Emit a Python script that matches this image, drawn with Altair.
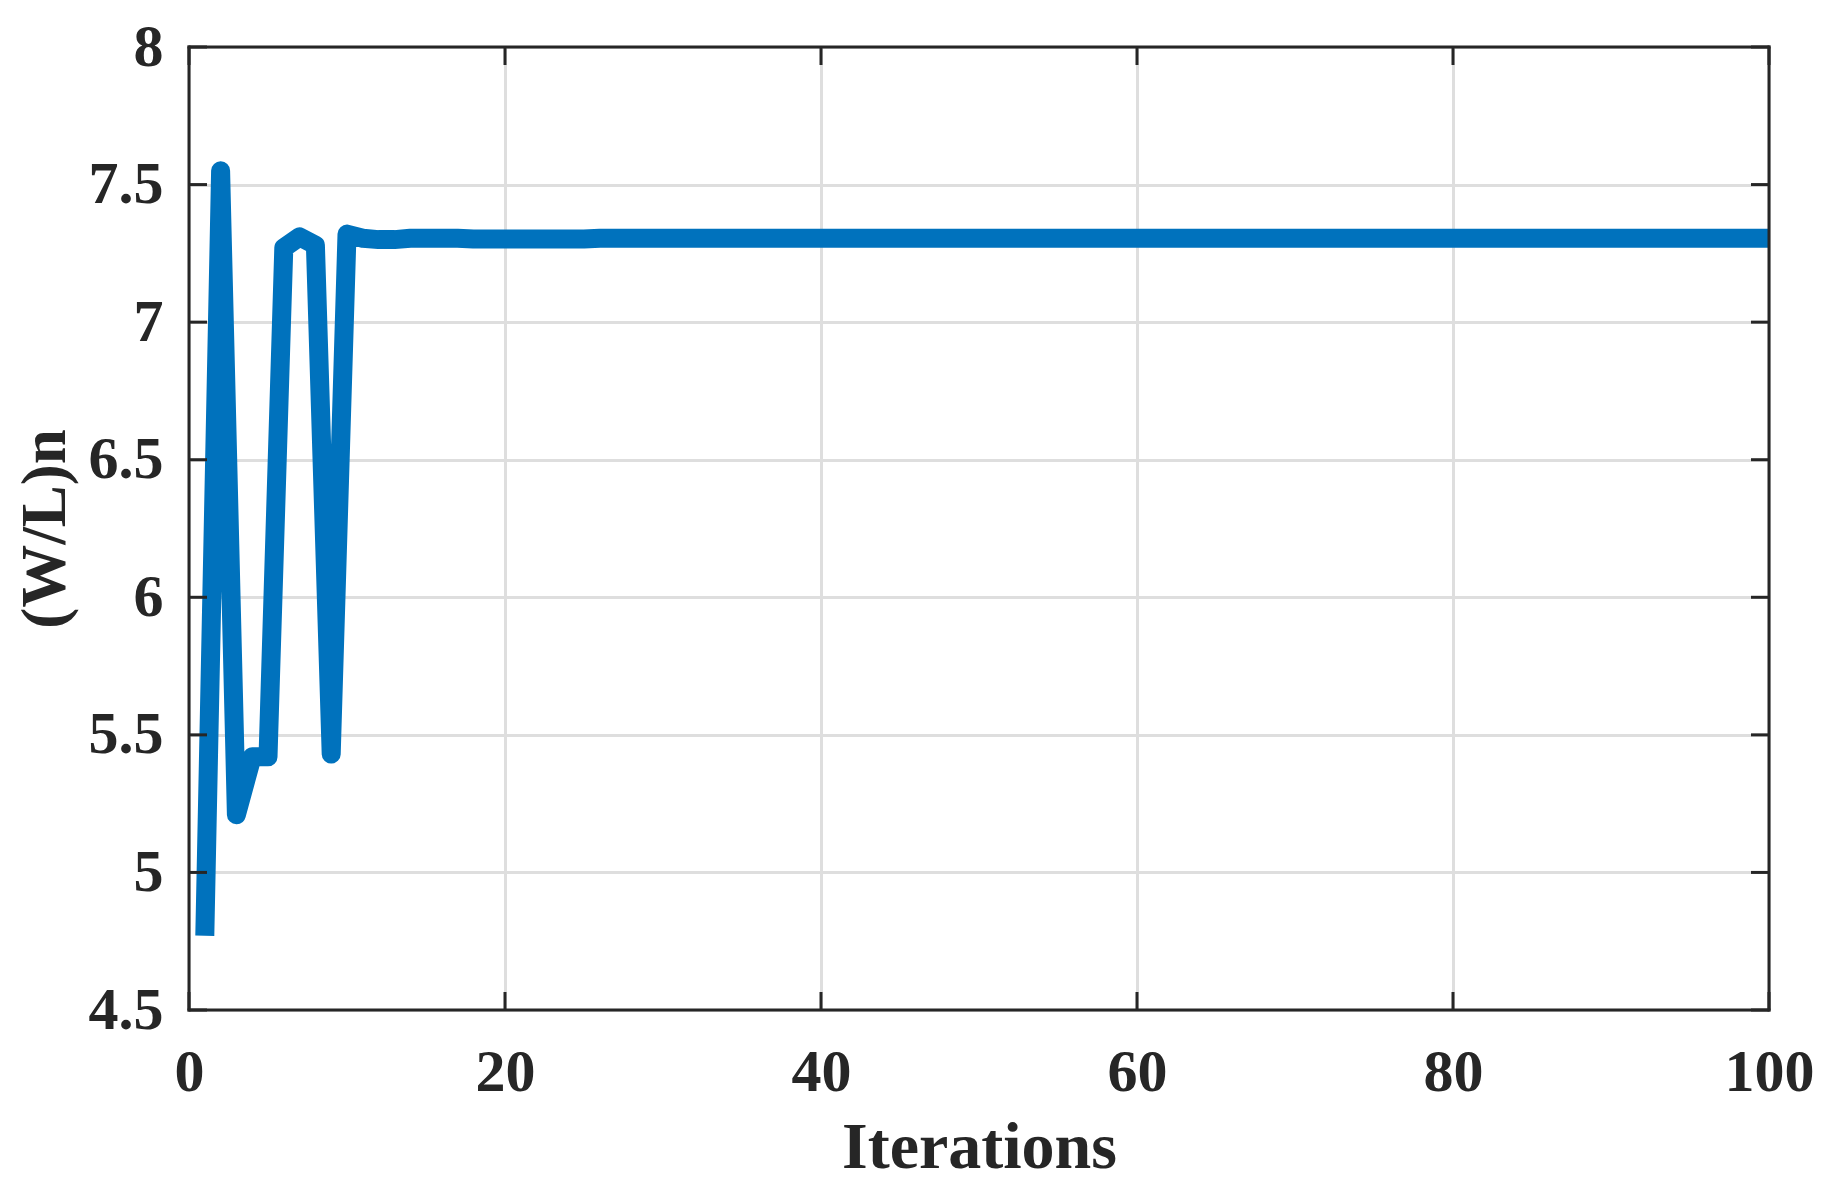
import altair as alt
import pandas as pd

iterations = list(range(1, 101))
wl_n = [
    4.77, 7.55, 5.21, 5.42, 5.42, 7.27, 7.31, 7.28, 5.43, 7.32,
    7.305, 7.300, 7.300, 7.305, 7.305, 7.305, 7.305, 7.302, 7.302, 7.302,
    7.302, 7.302, 7.302, 7.302, 7.302, 7.305, 7.305, 7.305, 7.305, 7.305,
    7.305, 7.305, 7.305, 7.305, 7.305, 7.305, 7.305, 7.305, 7.305, 7.305,
    7.305, 7.305, 7.305, 7.305, 7.305, 7.305, 7.305, 7.305, 7.305, 7.305,
    7.305, 7.305, 7.305, 7.305, 7.305, 7.305, 7.305, 7.305, 7.305, 7.305,
    7.305, 7.305, 7.305, 7.305, 7.305, 7.305, 7.305, 7.305, 7.305, 7.305,
    7.305, 7.305, 7.305, 7.305, 7.305, 7.305, 7.305, 7.305, 7.305, 7.305,
    7.305, 7.305, 7.305, 7.305, 7.305, 7.305, 7.305, 7.305, 7.305, 7.305,
    7.305, 7.305, 7.305, 7.305, 7.305, 7.305, 7.305, 7.305, 7.305, 7.305,
]
x_ticks = [0, 20, 40, 60, 80, 100]
y_ticks = [4.5, 5, 5.5, 6, 6.5, 7, 7.5, 8]
x_range = [0, 100]
y_range = [4.5, 8]

W, H = 1580, 963
FONT = "Liberation Serif"
INK = "#262626"
TICK = 18

df = pd.DataFrame({"it": iterations, "v": wl_n})
xt = pd.DataFrame({"it": x_ticks})
yt = pd.DataFrame({"v": y_ticks})
hframe = pd.DataFrame({"v": y_range, "it": [x_range[0]] * 2, "it2": [x_range[1]] * 2})
vframe = pd.DataFrame({"it": x_range, "v": [y_range[0]] * 2, "v2": [y_range[1]] * 2})

xs = alt.Scale(domain=x_range, nice=False, zero=False)
ys = alt.Scale(domain=y_range, nice=False, zero=False)

line = alt.Chart(df).mark_line(
    color="#0072BD", strokeWidth=19, strokeJoin="round", strokeCap="butt"
).encode(
    x=alt.X("it:Q", scale=xs, axis=alt.Axis(
        values=x_ticks, title="Iterations", grid=True, gridColor="#dedede", gridWidth=3,
        ticks=False, tickSize=0, domain=False,
        labelFont=FONT, labelFontWeight="bold", labelFontSize=60, labelColor=INK,
        labelBaseline="alphabetic", labelPadding=80, labelFlush=False,
        titleFont=FONT, titleFontWeight="bold", titleFontSize=66, titleColor=INK,
        titleX=W / 2, titleY=157, titleAlign="center", titleBaseline="alphabetic",
    )),
    y=alt.Y("v:Q", scale=ys, axis=alt.Axis(
        values=y_ticks, title="(W/L)n", grid=True, gridColor="#dedede", gridWidth=3,
        ticks=False, tickSize=0, domain=False, format="~g",
        labelFont=FONT, labelFontWeight="bold", labelFontSize=60, labelColor=INK,
        labelPadding=26, labelFlush=False, labelBaseline="middle",
        titleFont=FONT, titleFontWeight="bold", titleFontSize=63, titleColor=INK,
        titleX=-125, titleY=H / 2, titleAngle=-90, titleAlign="center",
        titleBaseline="alphabetic",
    )),
)

rule_style = dict(color=INK, strokeWidth=3)

bt = alt.Chart(xt).mark_rule(**rule_style).encode(
    x=alt.X("it:Q"), y=alt.value(H), y2=alt.value(H - TICK))
tt = alt.Chart(xt).mark_rule(**rule_style).encode(
    x=alt.X("it:Q"), y=alt.value(0), y2=alt.value(TICK))
lt = alt.Chart(yt).mark_rule(**rule_style).encode(
    y=alt.Y("v:Q"), x=alt.value(0), x2=alt.value(TICK))
rt = alt.Chart(yt).mark_rule(**rule_style).encode(
    y=alt.Y("v:Q"), x=alt.value(W), x2=alt.value(W - TICK))

hf = alt.Chart(hframe).mark_rule(color=INK, strokeWidth=3, strokeCap="square").encode(
    y=alt.Y("v:Q"), x=alt.X("it:Q"), x2="it2:Q")
vf = alt.Chart(vframe).mark_rule(color=INK, strokeWidth=3, strokeCap="square").encode(
    x=alt.X("it:Q"), y=alt.Y("v:Q"), y2="v2:Q")

chart = alt.layer(line, bt, tt, lt, rt, hf, vf).properties(
    width=W, height=H,
    autosize=alt.AutoSizeParams(type="none"),
    padding={"left": 181, "top": 39, "right": 45, "bottom": 172},
).configure_view(stroke=None).configure(background="white")

chart.save("out.html", embed_options={"renderer": "svg", "actions": False})
